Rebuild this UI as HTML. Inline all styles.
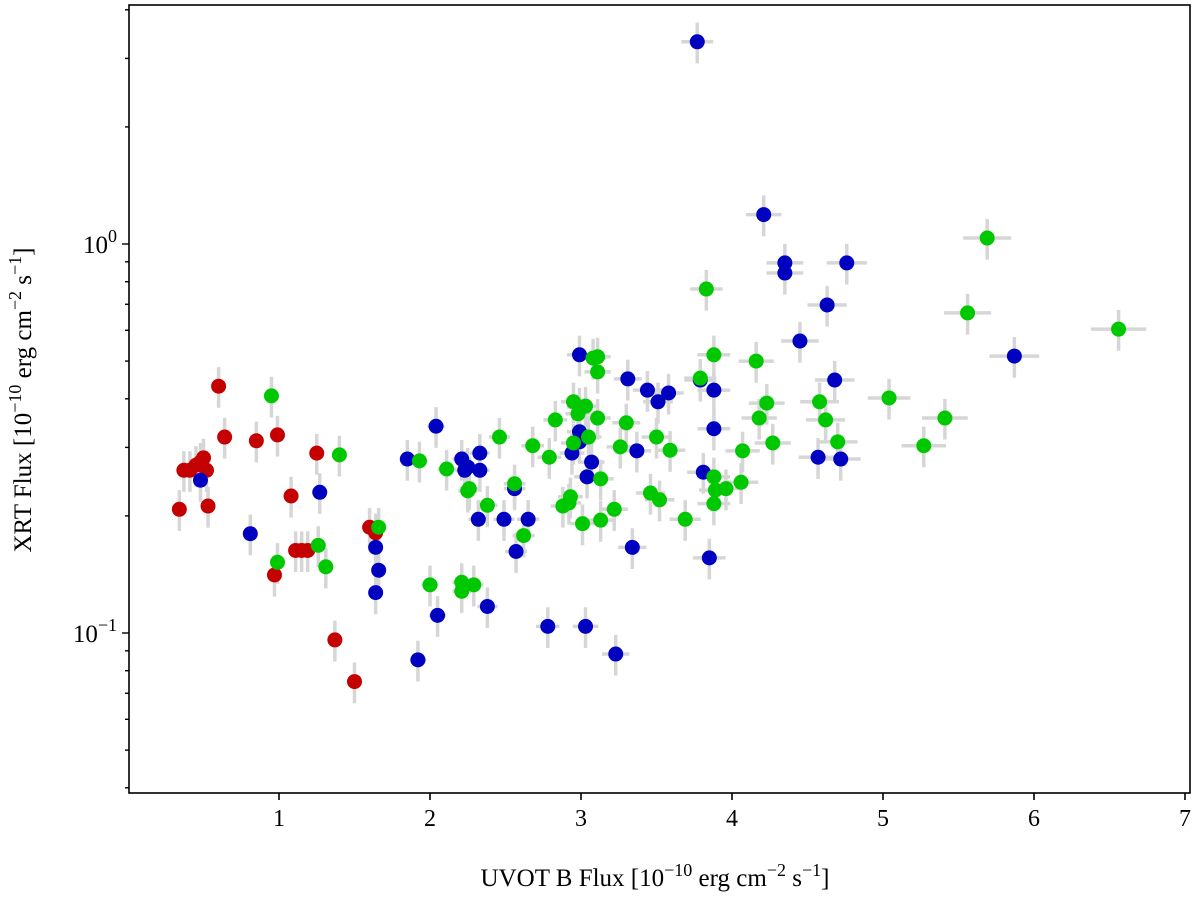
<!DOCTYPE html>
<html><head><meta charset="utf-8"><style>
html,body{margin:0;padding:0;background:#fff;}
svg{display:block;font-family:"Liberation Serif",serif;}
</style></head><body>
<svg id="chart" width="1200" height="897" viewBox="0 0 1200 897">
<g id="errs"></g>
<g id="pts"></g>
<g id="axes"></g>
</svg>
<script>
const redX=[0.34,0.37,0.41,0.45,0.48,0.50,0.52,0.53,0.60,0.64,0.85,0.97,0.99,1.08,1.11,1.15,1.19,1.25,1.37,1.50,1.60,1.64];
const redY=[0.208,0.262,0.262,0.270,0.275,0.282,0.262,0.212,0.431,0.319,0.312,0.141,0.323,0.225,0.163,0.163,0.163,0.290,0.096,0.075,0.187,0.181];
const blueX=[0.48,0.81,1.27,1.64,1.64,1.66,1.85,1.92,2.04,2.05,2.21,2.23,2.25,2.32,2.33,2.33,2.38,2.49,2.56,2.57,2.65,2.78,2.94,2.99,2.99,2.99,3.03,3.04,3.07,3.23,3.31,3.34,3.37,3.44,3.51,3.58,3.77,3.79,3.81,3.85,3.88,3.88,4.21,4.35,4.35,4.45,4.63,4.68,4.76,4.57,4.72,5.87];
const blueY=[0.247,0.180,0.230,0.166,0.127,0.145,0.280,0.0853,0.340,0.111,0.280,0.262,0.267,0.196,0.290,0.262,0.117,0.196,0.235,0.162,0.196,0.104,0.290,0.519,0.329,0.310,0.104,0.252,0.275,0.0883,0.450,0.166,0.294,0.421,0.393,0.414,3.31,0.447,0.259,0.156,0.421,0.335,1.19,0.894,0.842,0.563,0.697,0.447,0.894,0.283,0.280,0.515];
const greenX=[0.95,0.99,1.26,1.31,1.40,1.66,1.93,2.00,2.11,2.21,2.21,2.25,2.26,2.29,2.38,2.46,2.56,2.62,2.68,2.79,2.83,2.88,2.92,2.93,2.95,2.95,2.98,2.99,3.01,3.03,3.05,3.08,3.11,3.11,3.11,3.13,3.13,3.22,3.26,3.30,3.46,3.50,3.52,3.59,3.69,3.79,3.83,3.88,3.88,3.89,3.88,3.96,4.06,4.07,4.16,4.18,4.23,4.27,4.58,4.62,4.70,5.04,5.27,5.41,5.56,5.69,6.56];
const greenY=[0.407,0.152,0.168,0.148,0.287,0.187,0.277,0.133,0.264,0.128,0.135,0.232,0.235,0.133,0.213,0.319,0.242,0.178,0.303,0.283,0.353,0.212,0.216,0.224,0.393,0.308,0.366,0.381,0.191,0.383,0.319,0.509,0.513,0.469,0.357,0.195,0.249,0.208,0.301,0.347,0.229,0.319,0.220,0.295,0.196,0.452,0.766,0.519,0.252,0.233,0.215,0.235,0.244,0.294,0.500,0.357,0.390,0.308,0.393,0.353,0.310,0.402,0.303,0.357,0.665,1.036,0.604];
const xTicks=[1,2,3,4,5,6,7];
const yMajor=[-1,0];

const NS='http://www.w3.org/2000/svg';
const L=129,R=1190,T=5,B=793;
function sx(v){return 128+v*151;}
function sy(v){return 244-Math.log10(v)*389;}
function mk(tag,attrs,parent){const e=document.createElementNS(NS,tag);for(const k in attrs)e.setAttribute(k,attrs[k]);parent.appendChild(e);return e;}
const errs=document.getElementById('errs'),pts=document.getElementById('pts'),axes=document.getElementById('axes');
const series=[[redX,redY,'#c40000','red'],[blueX,blueY,'#0000c0','blue'],[greenX,greenY,'#00c800','green']];
series.forEach(([xs,ys,col,nm])=>{
  xs.forEach((x,i)=>{
    const y=ys[i];
    const ex=0.028*x, ey=0.12*y;
    const v=mk('line',{x1:sx(x),x2:sx(x),y1:sy(y-ey),y2:sy(y+ey),stroke:'#d6d6d6','stroke-width':3.5},errs);
    
    
    const h=mk('line',{x1:sx(x-ex),x2:sx(x+ex),y1:sy(y),y2:sy(y),stroke:'#d6d6d6','stroke-width':3.5},errs);
    
    
  });
});
series.forEach(([xs,ys,col,nm])=>{
  xs.forEach((x,i)=>{
    const c=mk('circle',{cx:sx(x),cy:sy(ys[i]),r:7.5,fill:col},pts);
    
    
  });
});
const frame=mk('rect',{x:L,y:T,width:R-L,height:B-T,fill:'none',stroke:'#000','stroke-width':1.6},axes);


xTicks.forEach(t=>{
  const X=sx(t);
  mk('line',{x1:X,x2:X,y1:B,y2:B+7,stroke:'#000','stroke-width':1.6},axes);
  const tx=mk('text',{x:X,y:B+33,'text-anchor':'middle','font-size':24},axes);
  tx.textContent=t;
  
  
});
for(let d=-2;d<=0;d++){for(let m=1;m<10;m++){
  const v=m*Math.pow(10,d);const Y=sy(v);
  if(Y<T||Y>B)continue;
  const major=(m===1);
  mk('line',{x1:L,x2:L-(major?7:4),y1:Y,y2:Y,stroke:'#000','stroke-width':1.4},axes);
}}
yMajor.forEach(e=>{
  const Y=sy(Math.pow(10,e));
  const tx=mk('text',{x:L-12,y:Y+9,'text-anchor':'end','font-size':25},axes);
  tx.innerHTML='10<tspan dy="-11" font-size="18">'+(e<0?'\u2212'+(-e):e)+'</tspan>';
  
  
});
</script>
<div style="position:absolute;left:0;top:0;width:1200px;height:897px;pointer-events:none;">
<svg width="1200" height="897" style="font-family:'Liberation Serif',serif">
<text x="655" y="886" text-anchor="middle" font-size="25">UVOT B Flux [10<tspan dy="-10" font-size="18">−10</tspan><tspan dy="10"> erg cm</tspan><tspan dy="-10" font-size="18">−2</tspan><tspan dy="10"> s</tspan><tspan dy="-10" font-size="18">−1</tspan><tspan dy="10">]</tspan></text>
<text transform="translate(31,400) rotate(-90)" text-anchor="middle" font-size="25">XRT Flux [10<tspan dy="-10" font-size="18">−10</tspan><tspan dy="10"> erg cm</tspan><tspan dy="-10" font-size="18">−2</tspan><tspan dy="10"> s</tspan><tspan dy="-10" font-size="18">−1</tspan><tspan dy="10">]</tspan></text>
</svg></div>
</body></html>
